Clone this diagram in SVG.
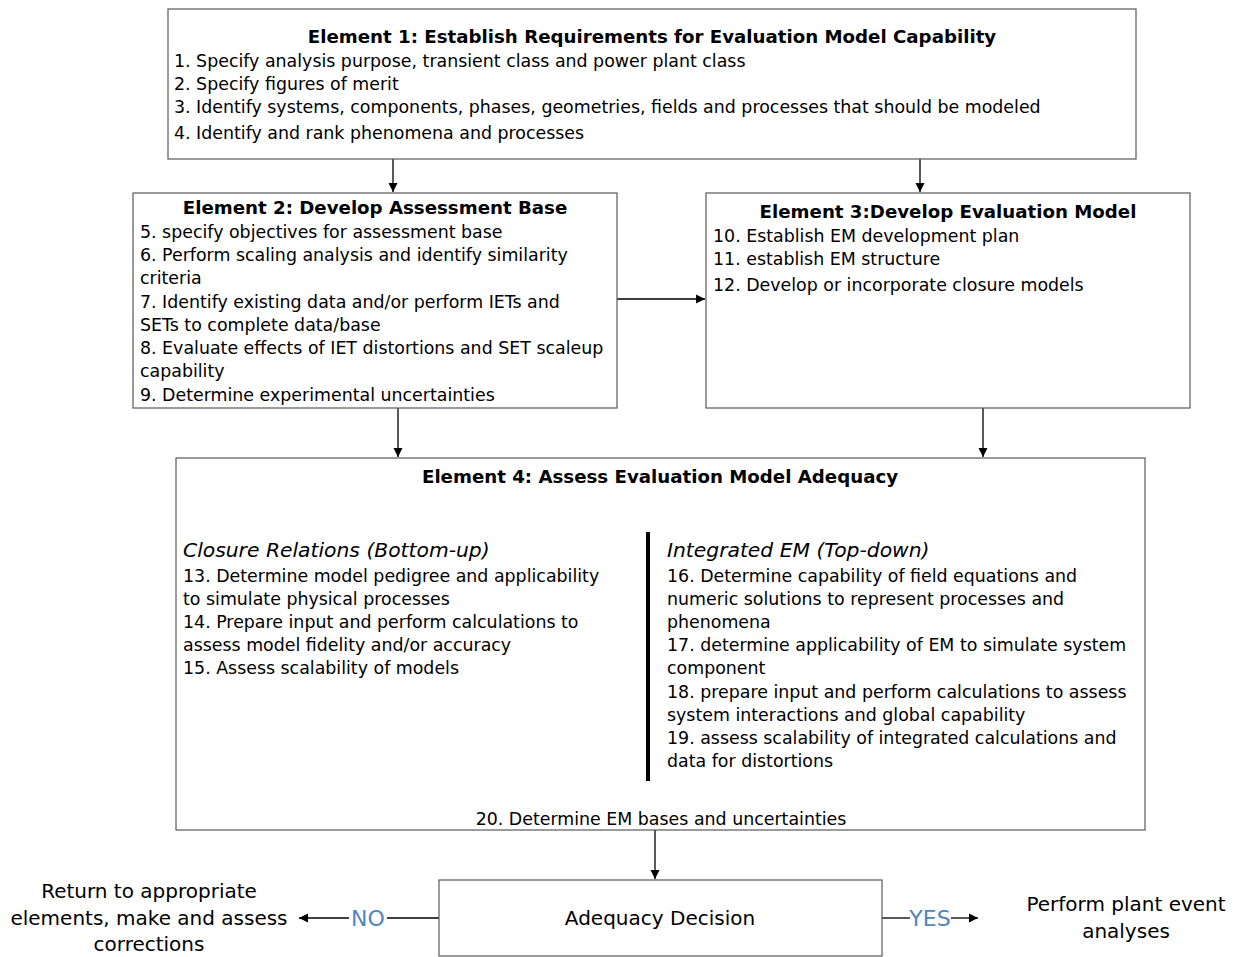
<svg xmlns="http://www.w3.org/2000/svg" width="1237" height="957" viewBox="0 0 1237 957">
<style>
.box{fill:#fff;stroke:#595959;stroke-width:1.2}
.t{font-family:"DejaVu Sans",Verdana,sans-serif;font-size:17.4px;fill:#000}
.h{font-family:"DejaVu Sans",Verdana,sans-serif;font-size:18.2px;font-weight:bold;fill:#000;text-anchor:middle}
.i{font-style:italic;font-size:20.3px}
.c{text-anchor:middle}
.big{font-size:20px}
.blue{fill:#4f86c0;font-size:22px}
.ln{stroke:#000;stroke-width:1.3;fill:none}
</style>
<defs>
<marker id="ah" markerUnits="userSpaceOnUse" markerWidth="10" markerHeight="10" viewBox="0 0 10 10" refX="9" refY="5" orient="auto">
<path d="M0,0.5 L9,5 L0,9.5 z" fill="#000"/>
</marker>
</defs>
<rect width="1237" height="957" fill="#fff"/>
<g id="connectors">
<line class="ln" x1="393" y1="159" x2="393" y2="192" marker-end="url(#ah)"/>
<line class="ln" x1="920" y1="159" x2="920" y2="192" marker-end="url(#ah)"/>
<line class="ln" x1="617" y1="299" x2="705" y2="299" marker-end="url(#ah)"/>
<line class="ln" x1="398" y1="408" x2="398" y2="457" marker-end="url(#ah)"/>
<line class="ln" x1="983" y1="408" x2="983" y2="457" marker-end="url(#ah)"/>
<line class="ln" x1="655" y1="830" x2="655" y2="879" marker-end="url(#ah)"/>
<line class="ln" x1="439" y1="918" x2="387" y2="918"/>
<line class="ln" x1="349" y1="918" x2="299" y2="918" marker-end="url(#ah)"/>
<text class="t blue" x="368" y="926" text-anchor="middle">NO</text>
<line class="ln" x1="882" y1="918" x2="910" y2="918"/>
<line class="ln" x1="951" y1="918" x2="978" y2="918" marker-end="url(#ah)"/>
<text class="t blue" x="930" y="926" text-anchor="middle">YES</text>
</g>
<g id="element1">
<rect class="box" x="168" y="9" width="968" height="150"/>
<text class="h" x="652" y="43">Element 1: Establish Requirements for Evaluation Model Capability</text>
<text class="t" x="174" y="67">1. Specify analysis purpose, transient class and power plant class</text>
<text class="t" x="174" y="90">2. Specify figures of merit</text>
<text class="t" x="174" y="113">3. Identify systems, components, phases, geometries, fields and processes that should be modeled</text>
<text class="t" x="174" y="139">4. Identify and rank phenomena and processes</text>
</g>
<g id="element2">
<rect class="box" x="133" y="193" width="484" height="215"/>
<text class="h" x="375" y="214">Element 2: Develop Assessment Base</text>
<text class="t" x="140" y="238">5. specify objectives for assessment base</text>
<text class="t" x="140" y="261">6. Perform scaling analysis and identify similarity</text>
<text class="t" x="140" y="284">criteria</text>
<text class="t" x="140" y="308">7. Identify existing data and/or perform IETs and</text>
<text class="t" x="140" y="331">SETs to complete data/base</text>
<text class="t" x="140" y="354">8. Evaluate effects of IET distortions and SET scaleup</text>
<text class="t" x="140" y="377">capability</text>
<text class="t" x="140" y="401">9. Determine experimental uncertainties</text>
</g>
<g id="element3">
<rect class="box" x="706" y="193" width="484" height="215"/>
<text class="h" x="948" y="218">Element 3:Develop Evaluation Model</text>
<text class="t" x="713" y="242">10. Establish EM development plan</text>
<text class="t" x="713" y="265">11. establish EM structure</text>
<text class="t" x="713" y="291">12. Develop or incorporate closure models</text>
</g>
<g id="element4">
<rect class="box" x="176" y="458" width="969" height="372"/>
<text class="h" x="660" y="483">Element 4: Assess Evaluation Model Adequacy</text>
<text class="t i" x="183" y="557">Closure Relations (Bottom-up)</text>
<text class="t" x="183" y="582">13. Determine model pedigree and applicability</text>
<text class="t" x="183" y="605">to simulate physical processes</text>
<text class="t" x="183" y="628">14. Prepare input and perform calculations to</text>
<text class="t" x="183" y="651">assess model fidelity and/or accuracy</text>
<text class="t" x="183" y="674">15. Assess scalability of models</text>
<line x1="648" y1="532" x2="648" y2="781" stroke="#000" stroke-width="4"/>
<text class="t i" x="667" y="557">Integrated EM (Top-down)</text>
<text class="t" x="667" y="582">16. Determine capability of field equations and</text>
<text class="t" x="667" y="605">numeric solutions to represent processes and</text>
<text class="t" x="667" y="628">phenomena</text>
<text class="t" x="667" y="651">17. determine applicability of EM to simulate system</text>
<text class="t" x="667" y="674">component</text>
<text class="t" x="667" y="698">18. prepare input and perform calculations to assess</text>
<text class="t" x="667" y="721">system interactions and global capability</text>
<text class="t" x="667" y="744">19. assess scalability of integrated calculations and</text>
<text class="t" x="667" y="767">data for distortions</text>
<text class="t c" x="661" y="825">20. Determine EM bases and uncertainties</text>
</g>
<g id="decision">
<rect class="box" x="439" y="880" width="443" height="76"/>
<text class="t c big" x="660" y="925">Adequacy Decision</text>
</g>
<g id="return">
<text class="t c big" x="149" y="898">Return to appropriate</text>
<text class="t c big" x="149" y="925">elements, make and assess</text>
<text class="t c big" x="149" y="951">corrections</text>
</g>
<g id="perform">
<text class="t c big" x="1126" y="911">Perform plant event</text>
<text class="t c big" x="1126" y="938">analyses</text>
</g>
</svg>
